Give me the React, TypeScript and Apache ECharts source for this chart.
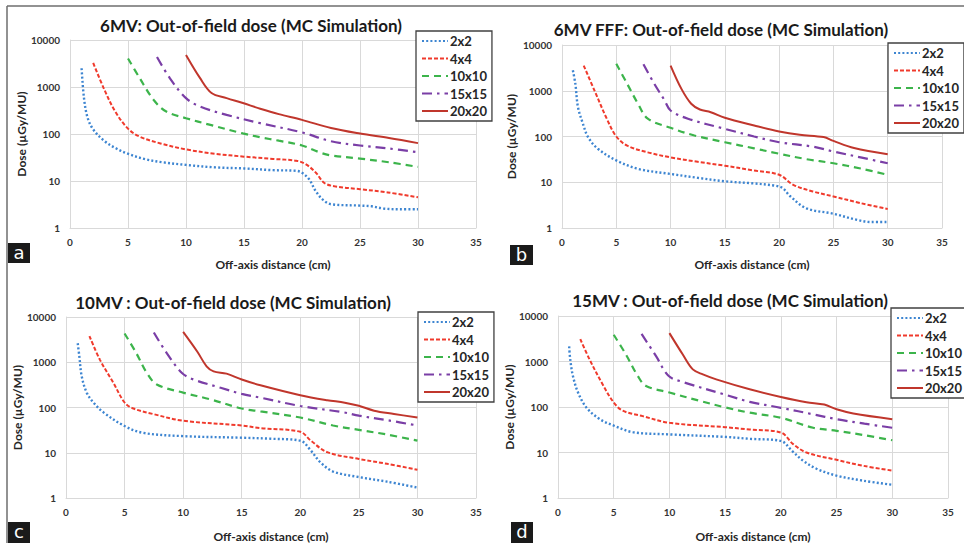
import React, { useEffect, useRef } from "react";
import * as echarts from "echarts";

const FIELD_SIZES = ["2x2", "4x4", "10x10", "15x15", "20x20"];
const PANEL_TITLES = [
  "6MV: Out-of-field dose (MC Simulation)",
  "6MV FFF: Out-of-field dose (MC Simulation)",
  "10MV : Out-of-field dose (MC Simulation)",
  "15MV : Out-of-field dose (MC Simulation)",
];
const PANEL_LETTERS = ["a", "b", "c", "d"];
const X_AXIS_NAME = "Off-axis distance (cm)";
const Y_AXIS_NAME = "Dose (µGy/MU)";

// Panel a: 6MV
const a2x2 = [[1, 2500], [1.2, 600], [1.5, 230], [2, 125], [3, 70], [4, 49], [5, 38], [6.5, 29], [8, 25], [10, 22], [12.5, 19.5], [15, 18.5], [17.5, 17], [19.5, 16.5], [20, 15], [20.6, 11], [21.2, 6], [21.8, 4], [22.5, 3.2], [25, 3.0], [26, 2.9], [27, 2.6], [28.5, 2.5], [30, 2.5]];
const a4x4 = [[2, 3250], [2.9, 950], [3.9, 300], [5, 130], [6, 88], [7.8, 63], [10, 47], [12.5, 38], [15, 33], [17.5, 29.5], [19.5, 27], [20.3, 23], [21.2, 15], [21.9, 9.2], [22.8, 7.7], [25, 6.7], [27.4, 5.7], [30, 4.5]];
const a10x10 = [[5, 4050], [6, 1560], [7.2, 535], [8.3, 300], [10, 217], [12.1, 156], [14.9, 103], [16.4, 85], [18, 72], [20, 57], [21.6, 40], [22.5, 35], [25, 30], [27.5, 25], [30, 20]];
const a15x15 = [[7.5, 4350], [8.6, 1550], [10, 580], [11.2, 385], [13.5, 255], [16.4, 170], [20, 108], [22.5, 70], [25, 57], [27.5, 49], [30, 41]];
const a20x20 = [[10, 4800], [11.2, 1560], [12.2, 745], [13.5, 580], [14.9, 455], [16.4, 345], [18, 265], [20, 200], [22.5, 134], [25, 102], [27.5, 82], [30, 64]];

// Panel b: 6MV FFF
const b2x2 = [[1, 2800], [1.23, 1420], [1.47, 440], [1.93, 190], [2.4, 97], [3.3, 54], [5, 30], [7, 19.6], [10, 15.2], [12.5, 12.5], [15, 10.5], [17.5, 9.5], [19.5, 8.5], [20.3, 7.5], [21, 5], [22.5, 2.7], [25, 2.05], [27.2, 1.5], [28.5, 1.35], [30, 1.35]];
const b4x4 = [[2, 3560], [3, 1000], [4.2, 224], [5, 100], [6, 63], [7.9, 45], [10, 35], [12.5, 28], [15, 23], [17.7, 18], [20, 14.6], [21.3, 8.8], [23.1, 6.3], [25, 4.9], [27.5, 3.5], [30, 2.6]];
const b10x10 = [[5, 3900], [6, 1420], [7, 520], [7.9, 245], [10, 155], [12.2, 105], [15, 75], [17.7, 55], [20, 42], [22.5, 32], [25, 26], [27.5, 20], [30, 14.5]];
const b15x15 = [[7.5, 3780], [8.5, 1420], [9.45, 615], [10, 370], [11.6, 245], [15, 147], [17.7, 100], [20, 75], [23.1, 60], [25, 47], [27.5, 35], [30, 26]];
const b20x20 = [[10, 3560], [11, 1100], [11.9, 520], [12.7, 390], [13.7, 340], [15, 256], [17.7, 174], [20, 129], [21.9, 109], [24.1, 97], [25, 80], [26.9, 56], [30, 41]];

// Panel c: 10MV
const c2x2 = [[1, 2630], [1.14, 1340], [1.34, 490], [1.77, 213], [2.34, 129], [3.2, 78], [5, 39], [6.6, 27.5], [10, 23.3], [15, 21.5], [17.5, 20.4], [20, 18.5], [20.9, 11.2], [21.7, 6.2], [22.8, 3.85], [25, 2.9], [27.4, 2.3], [30, 1.7]];
const c4x4 = [[2, 3800], [2.9, 1130], [4.05, 350], [5, 129], [5.75, 95], [7.5, 71], [10, 51], [15, 40], [16.6, 35], [20, 29], [20.9, 18.5], [22.3, 10.3], [25, 7.3], [27.4, 5.7], [30, 4.2]];
const c10x10 = [[5, 4330], [6, 1590], [6.9, 580], [7.75, 323], [10, 213], [12.3, 152], [15, 95], [16.6, 82], [20, 60], [22.8, 40], [25, 32], [27.5, 25], [30, 18.5]];
const c15x15 = [[7.5, 4560], [8.6, 1590], [9.9, 580], [10.9, 415], [13.2, 273], [15, 200], [16.6, 165], [20, 108], [23.7, 78], [25, 66], [27.5, 52], [30, 40]];
const c20x20 = [[10, 4700], [11.2, 1730], [12, 815], [12.6, 630], [13.7, 560], [15, 415], [16.6, 310], [20, 187], [22.3, 145], [23.8, 128], [25, 109], [26.3, 85], [28, 72], [30, 60]];

// Panel d: 15MV
const d2x2 = [[1, 2150], [1.1, 1100], [1.34, 480], [1.8, 208], [2.54, 98], [3.7, 55], [5, 39], [6.7, 28], [10, 25], [15, 22], [17.2, 20], [20, 18], [21, 10.9], [22, 6.6], [23.2, 4.4], [25, 3.1], [27.4, 2.4], [30, 1.95]];
const d4x4 = [[2, 3110], [2.84, 1100], [4, 316], [5, 126], [5.8, 83], [7.6, 63], [10, 45], [15, 36], [17.2, 32], [20, 27.5], [21.1, 15.3], [22.3, 10], [25, 6.9], [27.4, 5.1], [30, 4]];
const d10x10 = [[5, 3870], [6.1, 1420], [7.16, 480], [7.9, 290], [10, 208], [12.7, 137], [15, 98], [17.2, 75], [20, 58], [22.9, 35], [25, 30], [27.5, 24], [30, 18.6]];
const d15x15 = [[7.5, 4040], [8.8, 1310], [9.94, 480], [11.2, 355], [15, 187], [17.2, 130], [20, 96], [22.9, 69], [25, 54], [27.5, 43], [30, 35]];
const d20x20 = [[10, 4200], [11.2, 1420], [12.1, 670], [13, 520], [14.2, 405], [17.2, 245], [20, 166], [22.3, 127], [23.9, 113], [25, 89], [26.5, 72], [30, 54]];

const PANEL_DATA = [
  [a2x2, a4x4, a10x10, a15x15, a20x20],
  [b2x2, b4x4, b10x10, b15x15, b20x20],
  [c2x2, c4x4, c10x10, c15x15, c20x20],
  [d2x2, d4x4, d10x10, d15x15, d20x20],
];

const LINE_STYLES: any[] = [
  { color: "#3d85d1", type: [2, 2.2], width: 2.4 },
  { color: "#f03a2c", type: [4, 2], width: 2 },
  { color: "#3cb44b", type: [7, 5], width: 2.2 },
  { color: "#7a3ea6", type: [10, 5, 2.5, 5], width: 2.2 },
  { color: "#c0362c", type: "solid", width: 2 },
];

const GRIDS = [
  { left: 70, top: 40, width: 406, height: 188 },
  { left: 562, top: 45, width: 380, height: 183 },
  { left: 66, top: 317, width: 410, height: 183 },
  { left: 558, top: 316, width: 390, height: 184 },
];
const Y_NAME_GAPS = [42, 45, 43, 39];
const X_NAME_GAPS = [30, 30, 32, 32];
const LEGEND_POS = [
  { left: 416, top: 31 },
  { left: 888, top: 43 },
  { left: 418, top: 312 },
  { left: 891, top: 308 },
];
const TITLE_POS = [
  { x: 251, y: 25 },
  { x: 721, y: 29 },
  { x: 233, y: 302 },
  { x: 730, y: 300 },
];
const LETTER_BOX = [
  { x: 8, y: 243, w: 22, h: 20 },
  { x: 510, y: 245, w: 23, h: 20 },
  { x: 8, y: 522, w: 22, h: 21 },
  { x: 511, y: 522, w: 22, h: 21 },
];

const FONT = "Lato, 'Open Sans', sans-serif";

export default function App() {
  const ref = useRef<HTMLDivElement>(null);
  useEffect(() => {
    if (!ref.current) return;
    const chart = echarts.init(ref.current, undefined, { renderer: "svg" });
    const grid = GRIDS.map((g) => ({ ...g, containLabel: false }));
    const xAxis = GRIDS.map((_, i) => ({
      type: "value",
      gridIndex: i,
      min: 0,
      max: 35,
      interval: 5,
      name: X_AXIS_NAME,
      nameLocation: "middle",
      nameGap: X_NAME_GAPS[i],
      nameTextStyle: { fontFamily: FONT, fontWeight: "bold", fontSize: 12, color: "#262626" },
      axisLine: { show: true, lineStyle: { color: "#d9d9d9", width: 1 } },
      axisTick: { show: false },
      axisLabel: { fontFamily: FONT, fontWeight: "bold", fontSize: 10, color: "#333", margin: 9 },
      splitLine: { show: true, lineStyle: { color: "#d9d9d9", width: 1 } },
    }));
    const yAxis = GRIDS.map((_, i) => ({
      type: "log",
      logBase: 10,
      gridIndex: i,
      min: 1,
      max: 10000,
      name: Y_AXIS_NAME,
      nameLocation: "middle",
      nameGap: Y_NAME_GAPS[i],
      nameRotate: 90,
      nameTextStyle: { fontFamily: FONT, fontWeight: "bold", fontSize: 12, color: "#262626" },
      axisLine: { show: true, lineStyle: { color: "#d9d9d9", width: 1 } },
      axisTick: { show: false },
      axisLabel: {
        fontFamily: FONT,
        fontWeight: "bold",
        fontSize: 10,
        color: "#333",
        margin: 10,
        formatter: (v: number) => String(Math.round(v)),
      },
      splitLine: { show: true, lineStyle: { color: "#d9d9d9", width: 1 } },
    }));
    const series: any[] = [];
    PANEL_DATA.forEach((panel, p) => {
      panel.forEach((data, s) => {
        const st = LINE_STYLES[s];
        series.push({
          type: "line",
          name: FIELD_SIZES[s],
          xAxisIndex: p,
          yAxisIndex: p,
          data,
          symbol: "none",
          smooth: 0.35,
          color: st.color,
          lineStyle: { color: st.color, type: st.type, width: st.width },
        });
      });
    });
    const legend = LEGEND_POS.map((pos) => ({
      data: FIELD_SIZES,
      orient: "vertical",
      left: pos.left,
      top: pos.top,
      itemWidth: 26,
      itemHeight: 12,
      itemGap: 3.5,
      padding: [3, 5, 3, 5],
      borderColor: "#404040",
      borderWidth: 1.3,
      backgroundColor: "#fff",
      selectedMode: false,
      itemStyle: { opacity: 0 },
      textStyle: { fontFamily: FONT, fontWeight: "bold", fontSize: 13, color: "#262626", lineHeight: 14, padding: [0, 0, 0, -3] },
    }));
    const graphic: any[] = [
      { type: "line", shape: { x1: 7, y1: 6, x2: 964, y2: 6 }, style: { stroke: "#6e6e6e", lineWidth: 1.5 } },
      { type: "line", shape: { x1: 7, y1: 6, x2: 7, y2: 543 }, style: { stroke: "#6e6e6e", lineWidth: 1.5 } },
    ];
    TITLE_POS.forEach((t, i) => {
      graphic.push({
        type: "text",
        x: t.x,
        y: t.y,
        style: {
          text: PANEL_TITLES[i],
          font: `bold 17px ${FONT}`,
          fill: "#1a1a1a",
          textAlign: "center",
          textVerticalAlign: "middle",
        },
      });
    });
    LETTER_BOX.forEach((b, i) => {
      graphic.push({
        type: "rect",
        shape: { x: b.x, y: b.y, width: b.w, height: b.h },
        style: { fill: "#1a1a1a" },
      });
      graphic.push({
        type: "text",
        x: b.x + b.w / 2,
        y: b.y + b.h / 2 - 1,
        style: {
          text: PANEL_LETTERS[i],
          font: `18px 'DejaVu Sans', sans-serif`,
          fill: "#fff",
          textAlign: "center",
          textVerticalAlign: "middle",
        },
      });
    });
    chart.setOption({
      animation: false,
      backgroundColor: "#fff",
      grid,
      xAxis,
      yAxis,
      series,
      legend,
      graphic,
    });
    return () => chart.dispose();
  }, []);
  return (
    <div
      ref={ref}
      style={{ position: "absolute", left: 0, top: 0, width: 964, height: 543, background: "#fff" }}
    />
  );
}
